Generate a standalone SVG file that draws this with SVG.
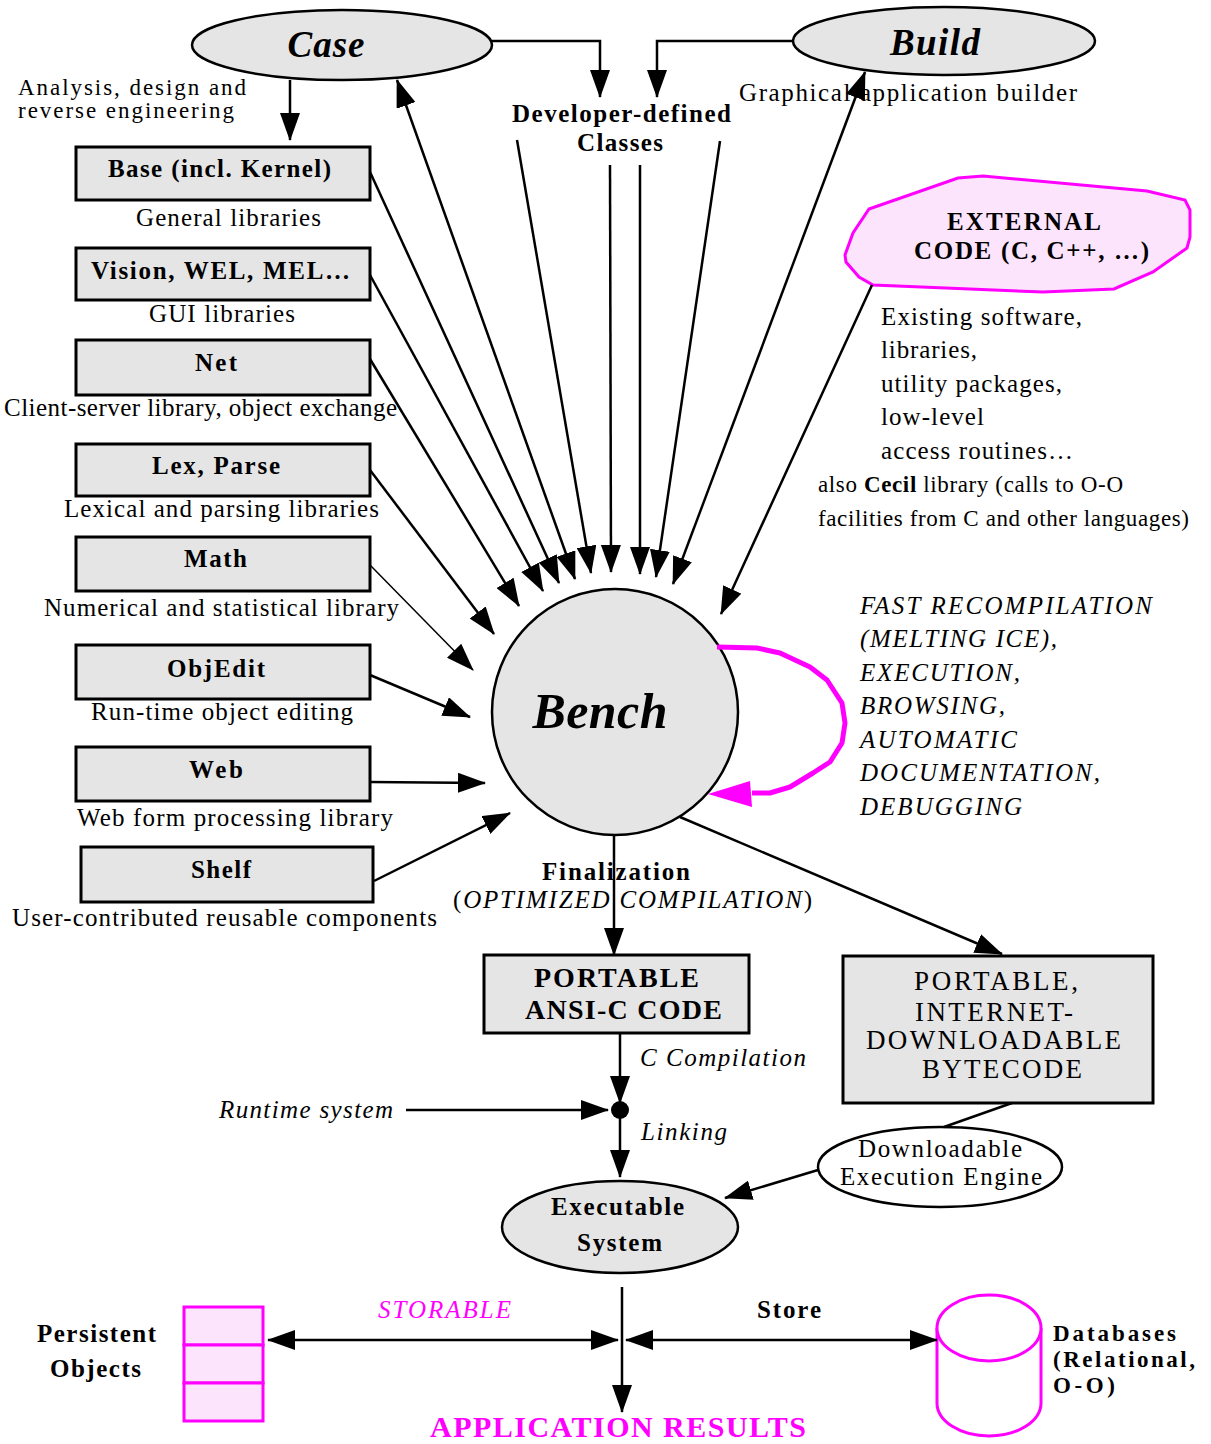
<svg xmlns="http://www.w3.org/2000/svg" width="1211" height="1444" viewBox="0 0 1211 1444">
<style>
text{font-family:"Liberation Serif","Times New Roman",serif;fill:#000}
.r{font-size:25px}
.b{font-size:25px;font-weight:bold}
.i{font-size:25px;font-style:italic}
.bi{font-weight:bold;font-style:italic}
.m{fill:#ff00ff}
.box{fill:#e5e5e5;stroke:#000;stroke-width:3}
.ell{fill:#e5e5e5;stroke:#000;stroke-width:2.5}
.pink{fill:#fde4fd;stroke:#ff00ff;stroke-width:3}
.ln{fill:none;stroke:#000;stroke-width:2.5}
.thin{fill:none;stroke:#000;stroke-width:1.5}
.a{marker-end:url(#ah)}
.aa{marker-start:url(#ah);marker-end:url(#ah)}
</style>
<defs>
<marker id="ah" viewBox="0 0 28 20" refX="27" refY="10" markerWidth="28" markerHeight="20" markerUnits="userSpaceOnUse" orient="auto-start-reverse"><path d="M0,0 L28,10 L0,20 z" fill="#000"/></marker>
</defs>
<rect width="1211" height="1444" fill="#fff"/>

<g id="case">
<ellipse class="ell" cx="342" cy="45" rx="150" ry="35"/>
<text class="bi" x="326" y="57" font-size="37" text-anchor="middle" textLength="77">Case</text>
</g>
<g id="build">
<ellipse class="ell" cx="944" cy="41" rx="151" ry="34"/>
<text class="bi" x="935" y="55" font-size="37" text-anchor="middle" textLength="90">Build</text>
</g>
<text x="18" y="95" font-size="23" textLength="228">Analysis, design and</text>
<text x="18" y="118" font-size="23" textLength="216">reverse engineering</text>
<g id="devclasses">
<text class="b" x="512" y="122" textLength="219">Developer-defined</text>
<text class="b" x="577" y="151" textLength="86">Classes</text>
</g>
<text class="r" x="739" y="101" textLength="338">Graphical  application builder</text>

<g id="base">
<rect class="box" x="76" y="147" width="294" height="53"/>
<text class="b" x="108" y="177" textLength="223">Base (incl. Kernel)</text>
<text class="r" x="136" y="226" textLength="185">General libraries</text>
</g>
<g id="vision">
<rect class="box" x="76" y="248" width="294" height="52"/>
<text class="b" x="91" y="279" textLength="259">Vision, WEL, MEL…</text>
<text class="r" x="149" y="322" textLength="146">GUI libraries</text>
</g>
<g id="net">
<rect class="box" x="76" y="340" width="294" height="55"/>
<text class="b" x="195" y="371" textLength="42">Net</text>
<text class="r" x="4" y="416" textLength="393">Client-server library, object exchange</text>
</g>
<g id="lex">
<rect class="box" x="76" y="444" width="294" height="52"/>
<text class="b" x="152" y="474" textLength="128">Lex, Parse</text>
<text class="r" x="64" y="517" textLength="315">Lexical and parsing libraries</text>
</g>
<g id="math">
<rect class="box" x="76" y="537" width="294" height="54"/>
<text class="b" x="184" y="567" textLength="63">Math</text>
<text class="r" x="44" y="616" textLength="355">Numerical and statistical library</text>
</g>
<g id="objedit">
<rect class="box" x="76" y="645" width="294" height="54"/>
<text class="b" x="167" y="677" textLength="98">ObjEdit</text>
<text class="r" x="91" y="720" textLength="262">Run-time object editing</text>
</g>
<g id="web">
<rect class="box" x="76" y="747" width="294" height="54"/>
<text class="b" x="189" y="778" textLength="54">Web</text>
<text class="r" x="77" y="826" textLength="316">Web form processing library</text>
</g>
<g id="shelf">
<rect class="box" x="81" y="847" width="292" height="55"/>
<text class="b" x="191" y="878" textLength="60">Shelf</text>
<text class="r" x="12" y="926" textLength="425">User-contributed reusable components</text>
</g>

<g id="external">
<polygon class="pink" points="869,209 958,178 983,176 1147,191 1185,200 1190,210 1190,237 1187,248 1153,272 1114,289 1043,292 873,285 859,277 846,262 845,255 853,233"/>
<text class="b" x="947" y="230" textLength="154">EXTERNAL</text>
<text class="b" x="914" y="259" textLength="235">CODE (C, C++, …)</text>
<text class="r" x="881" y="325" textLength="201">Existing software,</text>
<text class="r" x="881" y="358" textLength="96">libraries,</text>
<text class="r" x="881" y="392" textLength="181">utility packages,</text>
<text class="r" x="881" y="425" textLength="103">low-level</text>
<text class="r" x="881" y="459" textLength="192">access routines…</text>
<text x="818" y="492" font-size="23" textLength="305">also <tspan font-weight="bold">Cecil</tspan> library (calls to O-O</text>
<text x="818" y="526" font-size="23" textLength="371">facilities from C and other languages)</text>
</g>

<g id="bench">
<circle cx="615" cy="712" r="123" fill="#e5e5e5" stroke="#000" stroke-width="2.5"/>
<text class="bi" x="600" y="728" font-size="50" text-anchor="middle" textLength="135">Bench</text>
</g>
<g id="bench-notes">
<text class="i" x="860" y="614" textLength="292">FAST RECOMPILATION</text>
<text class="i" x="860" y="647" textLength="197">(MELTING ICE),</text>
<text class="i" x="860" y="681" textLength="160">EXECUTION,</text>
<text class="i" x="860" y="714" textLength="145">BROWSING,</text>
<text class="i" x="860" y="748" textLength="157">AUTOMATIC</text>
<text class="i" x="860" y="781" textLength="240">DOCUMENTATION,</text>
<text class="i" x="860" y="815" textLength="162">DEBUGGING</text>
</g>

<g id="finalization">
<text class="b" x="542" y="880" textLength="148">Finalization</text>
<text x="453" y="908" font-size="25" textLength="359">(<tspan font-style="italic">OPTIMIZED COMPILATION</tspan>)</text>
</g>
<g id="ansic">
<rect class="box" x="484" y="955" width="265" height="78"/>
<text x="534" y="987" font-size="28" font-weight="bold" textLength="165">PORTABLE</text>
<text x="525" y="1019" font-size="28" font-weight="bold" textLength="197">ANSI-C CODE</text>
</g>
<text class="i" x="640" y="1066" textLength="166">C Compilation</text>
<g id="link-node">
<circle cx="620" cy="1110" r="9" fill="#000"/>
</g>
<text class="i" x="219" y="1118" textLength="174">Runtime system</text>
<text class="i" x="641" y="1140" textLength="86">Linking</text>
<g id="bytecode">
<rect class="box" x="843" y="956" width="310" height="147"/>
<text x="914" y="990" font-size="27" textLength="164">PORTABLE,</text>
<text x="915" y="1021" font-size="27" textLength="158">INTERNET-</text>
<text x="866" y="1049" font-size="27" textLength="255">DOWNLOADABLE</text>
<text x="922" y="1078" font-size="27" textLength="160">BYTECODE</text>
</g>
<g id="engine">
<ellipse cx="940" cy="1167" rx="122" ry="40" fill="#fff" stroke="#000" stroke-width="2.5"/>
<text x="858" y="1157" font-size="25" textLength="164">Downloadable</text>
<text x="840" y="1185" font-size="25" textLength="202">Execution Engine</text>
</g>
<g id="executable">
<ellipse class="ell" cx="620" cy="1227" rx="118" ry="46"/>
<text class="b" x="551" y="1215" textLength="133">Executable</text>
<text class="b" x="577" y="1251" textLength="85">System</text>
</g>

<g id="persistent">
<rect class="pink" x="184" y="1307" width="79" height="38"/>
<rect class="pink" x="184" y="1345" width="79" height="38"/>
<rect class="pink" x="184" y="1383" width="79" height="38"/>
<text class="b" x="37" y="1342" textLength="119">Persistent</text>
<text class="b" x="50" y="1377" textLength="91">Objects</text>
</g>
<text class="i m" x="378" y="1318" textLength="133">STORABLE</text>
<text class="b" x="757" y="1318" textLength="64">Store</text>
<g id="databases">
<path d="M937,1328 L937,1403 A52,33 0 0 0 1041,1403 L1041,1328" fill="#fff" stroke="#ff00ff" stroke-width="3"/>
<ellipse cx="989" cy="1328" rx="52" ry="33" fill="#fff" stroke="#ff00ff" stroke-width="3"/>
<text x="1053" y="1341" font-size="23" font-weight="bold" textLength="123">Databases</text>
<text x="1053" y="1367" font-size="23" font-weight="bold" textLength="142">(Relational,</text>
<text x="1053" y="1393" font-size="23" font-weight="bold" textLength="62">O-O)</text>
</g>
<g id="results">
<text x="430" y="1437" font-size="30" font-weight="bold" class="m" textLength="376">APPLICATION RESULTS</text>
</g>

<g id="connectors">
<polyline class="ln a" points="492,41 600,41 600,97"/>
<polyline class="ln a" points="793,41 657,41 657,97"/>
<line class="ln a" x1="290" y1="80" x2="290" y2="140"/>
<line class="ln a" x1="370" y1="172" x2="559" y2="583"/>
<line class="ln a" x1="370" y1="275" x2="543" y2="591"/>
<line class="ln a" x1="370" y1="359" x2="519" y2="606"/>
<line class="ln a" x1="370" y1="470" x2="494" y2="634"/>
<line class="thin a" x1="370" y1="565" x2="473" y2="670"/>
<line class="ln a" x1="370" y1="675" x2="470" y2="717"/>
<line class="ln a" x1="370" y1="782" x2="485" y2="783"/>
<line class="ln a" x1="374" y1="881" x2="510" y2="813"/>
<line class="ln aa" x1="397" y1="80" x2="575" y2="579"/>
<line class="ln a" x1="517" y1="140" x2="591" y2="573"/>
<line class="ln a" x1="610" y1="165" x2="611" y2="572"/>
<line class="ln a" x1="640" y1="165" x2="640" y2="574"/>
<line class="ln a" x1="720" y1="141" x2="656" y2="577"/>
<line class="ln aa" x1="865" y1="72" x2="673" y2="584"/>
<line class="ln a" x1="872" y1="285" x2="721" y2="614"/>
<path d="M717,647 L757,648 L780,653 L810,667 L827,680 L842,703 L845,723 L842,743 L830,762 L813,773 L790,787 L770,793 L752,793" fill="none" stroke="#ff00ff" stroke-width="5" stroke-linejoin="round"/>
<path d="M708,794 L750,781 L752,807 z" fill="#ff00ff"/>
<line class="ln a" x1="614" y1="835" x2="614" y2="955"/>
<line class="ln a" x1="680" y1="817" x2="1002" y2="954"/>
<line class="ln a" x1="620" y1="1033" x2="620" y2="1103"/>
<line class="ln a" x1="406" y1="1110" x2="608" y2="1110"/>
<line class="ln a" x1="620" y1="1118" x2="620" y2="1177"/>
<line class="ln" x1="1012" y1="1103" x2="944" y2="1127"/>
<line class="ln a" x1="818" y1="1170" x2="725" y2="1198"/>
<line class="ln a" x1="622" y1="1287" x2="622" y2="1412"/>
<line class="ln aa" x1="268" y1="1340" x2="618" y2="1340"/>
<line class="ln aa" x1="626" y1="1340" x2="937" y2="1340"/>
</g>
</svg>
